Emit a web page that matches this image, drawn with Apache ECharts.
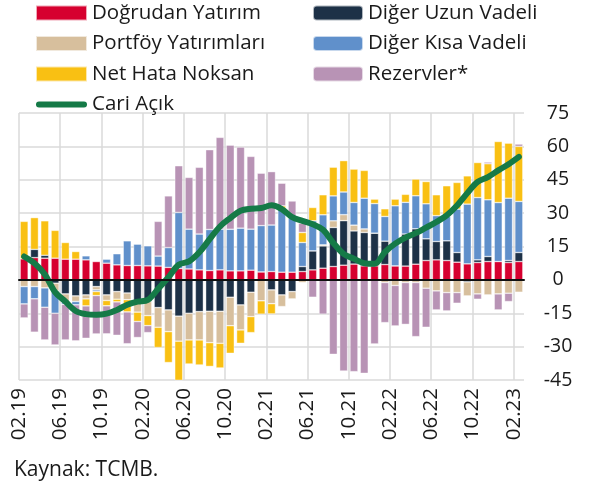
<!DOCTYPE html>
<html>
<head>
<meta charset="utf-8">
<script src="https://cdn.jsdelivr.net/npm/echarts@6/dist/echarts.min.js"></script>
<style>
  html, body { margin: 0; padding: 0; background: #fff; }
  #chart { width: 594px; height: 492px; }
</style>
</head>
<body>
<div id="chart"></div>
<script>
// Monthly periods, 02.2019 - 02.2023
const months = [
  '02.19','03.19','04.19','05.19','06.19','07.19','08.19','09.19','10.19','11.19','12.19',
  '01.20','02.20','03.20','04.20','05.20','06.20','07.20','08.20','09.20','10.20','11.20','12.20',
  '01.21','02.21','03.21','04.21','05.21','06.21','07.21','08.21','09.21','10.21','11.21','12.21',
  '01.22','02.22','03.22','04.22','05.22','06.22','07.22','08.22','09.22','10.22','11.22','12.22',
  '01.23','02.23'
];

// Financing components (billion USD, 12-month cumulative)
const dogrudanYatirim = [
  9.5, 10, 9.75, 9.75, 9.3, 9.3, 9, 8.25, 7.5, 6.75, 6.45, 6.45, 6.3, 6.2, 5.6, 5.1, 4.9, 4.5,
  4.2, 4.5, 4.05, 4.05, 4.35, 3.6, 3.75, 3.45, 3.45, 3.75, 4.5, 5.25, 6, 6.6, 7.1, 6.3, 6.3,
  6.9, 6.3, 6.2, 7.05, 8.7, 9, 8.7, 7.95, 7.2, 7.8, 8.25, 8.25, 7.8, 8.25
];
const digerUzunVadeli = [
  0, 3.7, 1.3, -1.5, -6.3, -7.2, -6.75, -3, -6.75, -5.25, -5.9, -10.5, -9.75, -12.45, -13.5,
  -16.3, -15, -14.25, -14.1, -14.1, -7.8, -11.25, -5.55, 0, -4.5, -6.75, -5.25, 2.25, 8.55, 10,
  17.55, 20, 14.9, 15, 14.7, 10.5, 0, 14.4, 15.9, 9.75, 8.25, 8.85, 4.35, -0.9, 1.2, 2.25, 0,
  0.9, 4.05
];
const portfoyYatirimlari = [
  -3, -3, -3.6, -3.5, -3.5, -2.5, -1.8, -1.5, -2.5, -3.45, -3, -4, -6.3, -8.85, -9.75, -11.25,
  -12, -12.75, -14.1, -14.4, -12.8, -11.25, -10.95, -9.4, -6.2, -5.25, -3.3, -1.2, 0, 0.5, 3,
  2.7, 2.6, 1.6, 0, -1.2, -2.5, -1.2, -1.2, -3.75, -4.95, -5.7, -5.7, -6.3, -6.3, -6.75, -6.3,
  -6, -5.55
];
const digerKisaVadeli = [
  -7.8, -5.5, -8.7, -10, -1.2, -1.5, 1.8, -0.75, 1.8, 5, 11.1, 9.6, 9, 4.5, 8.9, 25.2, 17.9,
  16.1, 18.45, 18.3, 18.7, 19.2, 18.45, 20.8, 20.9, 28.6, 24.5, 10.8, 13.5, 13.5, 11.2, 10.2,
  10.2, 13.8, 13.3, 11.1, 27, 14.25, 14.85, 15.75, 11.6, 11, 19.5, 26.85, 28, 25.5, 26.5, 28,
  22.95
];
const netHataNoksan = [
  16.8, 14.3, 15.5, 12.5, 7.5, 3.45, -3.15, -1.8, -2.4, -1.2, -5.5, -4.2, -4.5, -9.1, -13.9,
  -17.7, -10.8, -11.25, -10.7, -11.1, -12.4, -6, -7.2, -6, -4.6, 1.2, 0, 4.5, 6, 9, 12.9, 14.1,
  15, 12.5, 2, 3.45, 3, 3.6, 7.5, 10, 9.4, 13.75, 12, 12.75, 15.75, 16.2, 27.45, 24.75, 24.75
];
const rezervler = [
  -6.3, -15, -14.7, -14.25, -16, -16.2, -14.55, -17.25, -12.6, -15, -14.3, -7.2, -3.15, 15.6,
  23.25, 21, 23.25, 30, 35.85, 41.25, 37.8, 36.45, 32.7, 23.55, 24, 10.2, 7.5, 4.2, -7.8,
  -15.4, -33.45, -40.95, -41.25, -42, -28.8, -18, -18.2, -18.8, -24.3, -17.55, -8.55, -8.25,
  -4.8, 0, -2.4, 0.75, -7.2, -3.75, 1.05
];
const cariAcik = [
  10.5, 7.5, 2.5, -5.5, -9.75, -14, -15.4, -15.7, -15.2, -13.5, -11.2, -9.8, -9, -4, 1.2, 6.8,
  8.3, 12.4, 18.3, 24, 27.8, 31.1, 32, 32.3, 33.5, 31.8, 28.2, 26.5, 25, 22.5, 16.6, 11.7, 9.5,
  7.5, 7.2, 12.5, 16.3, 19, 21, 23.5, 26, 29, 33.4, 39, 44, 46.2, 49.2, 52, 55.3
];

// Tick labels sit on the month boundaries, one extra slot closes the last month
const boundaryLabels = months.concat(['']);

const FONT = '"Open Sans", "Noto Sans", sans-serif';
const TEXT = '#1a1a1a';
const LINE_GREEN = '#157a47';

const barSeries = [
  ['Doğrudan Yatırım', dogrudanYatirim, '#d6002f'],
  ['Diğer Uzun Vadeli', digerUzunVadeli, '#1d3147'],
  ['Portföy Yatırımları', portfoyYatirimlari, '#d7bf9d'],
  ['Diğer Kısa Vadeli', digerKisaVadeli, '#6090cb'],
  ['Net Hata Noksan', netHataNoksan, '#f9c013'],
  ['Rezervler*', rezervler, '#b893b5']
].map(([name, data, color]) => ({
  name,
  type: 'bar',
  stack: 'total',
  xAxisIndex: 0,
  barWidth: 8,
  data,
  itemStyle: { color, borderColor: 'rgba(255,255,255,0.65)', borderWidth: 0.6 },
  emphasis: { disabled: true },
  z: 2
}));

const legendText = { fontFamily: FONT, fontSize: 20.5, color: TEXT, lineHeight: 21 };
// rounded stroke used as the legend key of the line series
const lineKey = 'path://M3,0 L48,0 A3,3 0 0 1 48,6 L3,6 A3,3 0 0 1 3,0 Z';

const chart = echarts.init(document.getElementById('chart'), null, { renderer: 'canvas' });
chart.setOption({
  animation: false,
  textStyle: { fontFamily: FONT },
  grid: { left: 19, right: 70, top: 113, bottom: 112, containLabel: false },
  legend: [
    {
      orient: 'vertical', left: 35, top: 2.5, padding: 0,
      itemWidth: 51, itemHeight: 15, itemGap: 9.5,
      textStyle: legendText, selectedMode: false,
      data: [
        { name: 'Doğrudan Yatırım', icon: 'rect' },
        { name: 'Portföy Yatırımları', icon: 'rect' },
        { name: 'Net Hata Noksan', icon: 'rect' },
        { name: 'Cari Açık', icon: lineKey }
      ]
    },
    {
      orient: 'vertical', left: 312, top: 2.5, padding: 0,
      itemWidth: 50, itemHeight: 15, itemGap: 9.5,
      textStyle: legendText, selectedMode: false,
      data: ['Diğer Uzun Vadeli', 'Diğer Kısa Vadeli', 'Rezervler*']
    }
  ],
  xAxis: [
    {
      type: 'category',
      data: months,
      boundaryGap: true,
      position: 'bottom',
      z: 5,
      axisLine: { show: true, onZero: true, lineStyle: { color: '#111', width: 2 } },
      axisTick: { show: false },
      axisLabel: { show: false },
      splitLine: { show: false }
    },
    {
      type: 'category',
      data: boundaryLabels,
      boundaryGap: false,
      position: 'bottom',
      axisLine: { show: false, onZero: false },
      axisTick: { show: false },
      axisLabel: {
        interval: 3, rotate: 90, margin: 8,
        fontFamily: FONT, fontSize: 20.5, color: TEXT
      },
      splitLine: { show: true, interval: 3, lineStyle: { color: '#dadada', width: 1.5 } }
    }
  ],
  yAxis: {
    type: 'value',
    position: 'right',
    min: -45, max: 75, interval: 15,
    axisLine: { show: false },
    axisTick: { show: false },
    axisLabel: { margin: 34, align: 'center', fontFamily: FONT, fontSize: 19.5, color: TEXT },
    splitLine: { show: true, lineStyle: { color: '#dadada', width: 1.5 } }
  },
  series: barSeries.concat([{
    name: 'Cari Açık',
    type: 'line',
    xAxisIndex: 0,
    data: cariAcik,
    smooth: 0.35,
    symbol: 'none',
    lineStyle: { color: LINE_GREEN, width: 6, cap: 'round', join: 'round' },
    itemStyle: { color: LINE_GREEN },
    emphasis: { disabled: true },
    z: 4
  }]),
  graphic: [{
    type: 'text', left: 14, top: 460,
    style: { text: 'Kaynak: TCMB.', fontFamily: FONT, fontSize: 21, fill: TEXT }
  }]
});
</script>
</body>
</html>
